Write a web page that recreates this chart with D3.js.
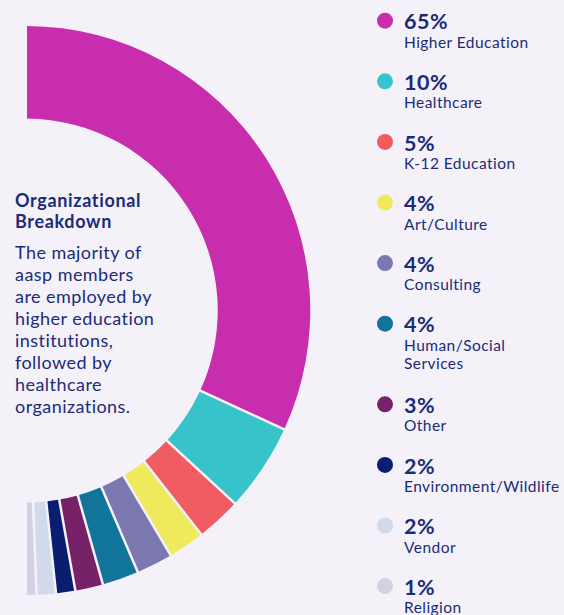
<!DOCTYPE html>
<html><head><meta charset="utf-8">
<script src="https://cdn.jsdelivr.net/npm/d3@7"></script>
<style>
html,body{margin:0;padding:0;background:#f4f2f8;}
svg{display:block;}
text{font-family:Lato,"Open Sans",sans-serif;fill:#1b2b78;}
</style></head>
<body>
<svg id="chart" width="564" height="615"></svg>
<script>
const categories = ["Higher Education","Healthcare","K-12 Education","Art/Culture","Consulting","Human/Social Services","Other","Environment/Wildlife","Vendor","Religion"];
const values = [65,10,5,4,4,4,3,2,2,1];
const colors = ["#c82dae","#38c3cb","#f15b62","#eeea5b","#7b78b1","#11749a","#762168","#0b1d6f","#d1d9ea","#d4d0e4"];
const legendLines = [["Higher Education"],["Healthcare"],["K-12 Education"],["Art/Culture"],["Consulting"],["Human/Social","Services"],["Other"],["Environment/Wildlife"],["Vendor"],["Religion"]];
const titleLines = ["Organizational","Breakdown"];
const bodyLines = ["The majority of","aasp members","are employed by","higher education","institutions,","followed by","healthcare","organizations."];

const svg = d3.select("#chart");
svg.append("rect").attr("width",564).attr("height",615).attr("fill","#f4f2f8");

const data = categories.map((c,i)=>({name:c, value:values[i], color:colors[i], lines:legendLines[i]}));

const pie = d3.pie().sort(null).value(d=>d.value).startAngle(0).endAngle(Math.PI).padAngle(0.0073);
const arc = d3.arc().innerRadius(192).outerRadius(284.5);

const g = svg.append("g").attr("transform","translate(25.75,310.5)");
g.selectAll("path").data(pie(data)).join("path")
  .attr("d",arc).attr("fill",d=>d.data.color);

// title & body
const tg = svg.append("g");
tg.selectAll("text.title").data(titleLines).join("text").attr("class","title")
  .attr("x",15).attr("y",(d,i)=>206.7+i*21.7)
  .attr("font-size",18).attr("letter-spacing",0.65).attr("font-weight",700).text(d=>d);
tg.selectAll("text.body").data(bodyLines).join("text").attr("class","body")
  .attr("x",15).attr("y",(d,i)=>259+i*22)
  .attr("font-size",18).attr("letter-spacing",0.45).text(d=>d);

// legend
let y = 20.7;
const lg = svg.append("g");
data.forEach((d,i)=>{
  const item = lg.append("g").attr("transform",`translate(0,${y})`);
  item.append("circle").attr("cx",385).attr("cy",0).attr("r",8).attr("fill",d.color);
  item.append("text").attr("x",404).attr("y",8.6).attr("font-size",21.5).attr("letter-spacing",0.5).attr("font-weight",700).text(d.value+"%");
  d.lines.forEach((l,j)=>{
    item.append("text").attr("x",404).attr("y",27+j*18.3).attr("font-size",15.5).attr("letter-spacing",0.45).text(l);
  });
  y += 60.6 + (d.lines.length-1)*20;
});
</script>
</body></html>
